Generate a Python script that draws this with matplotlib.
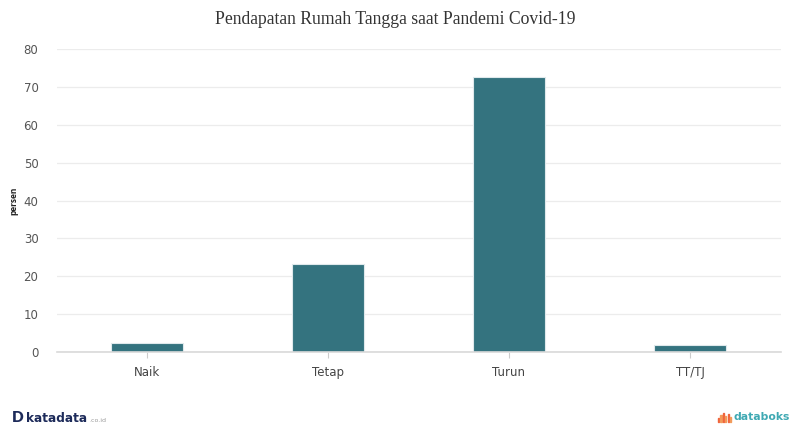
import matplotlib
matplotlib.use("Agg")
import matplotlib.pyplot as plt
from matplotlib.patches import Rectangle

categories = ["Naik", "Tetap", "Turun", "TT/TJ"]
values = [2.4, 23.3, 72.5, 1.8]
yticks = [0, 10, 20, 30, 40, 50, 60, 70, 80]

W, H = 790, 424
fig = plt.figure(figsize=(W / 100, H / 100), dpi=100)
fig.patch.set_facecolor("white")

ax = fig.add_axes([56.5 / W, (H - 352) / H, (780.5 - 56.5) / W, (352 - 49) / H])
ax.set_facecolor("white")

ax.bar(range(len(categories)), values, width=0.4, color="#34737f",
       edgecolor="#dfe9ec", linewidth=0.8, zorder=3)

ax.set_xlim(-0.5, len(categories) - 0.5)
ax.set_ylim(0, 80)
ax.set_yticks(yticks)
ax.set_yticklabels([str(v) for v in yticks])
ax.set_xticks(range(len(categories)))
ax.set_xticklabels(categories)

ax.grid(axis="y", color="#ececec", linewidth=0.9, zorder=0)
ax.grid(axis="x", visible=False)
for s in ["top", "right", "left"]:
    ax.spines[s].set_visible(False)
ax.spines["bottom"].set_color("#d9d9d9")
ax.spines["bottom"].set_linewidth(1.2)
ax.spines["bottom"].set_zorder(4)

ax.tick_params(axis="y", length=0, pad=13, labelsize=8.5, labelcolor="#555555")
ax.tick_params(axis="x", length=4, width=0.8, color="#cccccc", pad=6,
               labelsize=8.5, labelcolor="#444444")
for lbl in ax.get_xticklabels() + ax.get_yticklabels():
    lbl.set_family(["DejaVu Sans"])

ax.set_ylabel("persen", fontsize=6, fontweight="bold", color="#222222",
              family=["Open Sans", "DejaVu Sans"])
ax.yaxis.set_label_coords(-0.052, 0.5)

fig.text(0.5, 1 - 19 / H, "Pendapatan Rumah Tangga saat Pandemi Covid-19",
         ha="center", va="center", fontsize=12.7, color="#333333",
         family=["Liberation Serif", "DejaVu Serif"])

# footer brand marks
fig.text(12 / W, 1 - 418 / H, "D", ha="left", va="center", fontsize=11,
         fontweight="heavy", color="#1d2b5a", family=["Lato", "DejaVu Sans"])
fig.text(26 / W, 1 - 418 / H, "katadata", ha="left", va="center", fontsize=8.7,
         fontweight="bold", color="#1d2b5a", family=["DejaVu Sans"])
fig.text(89 / W, 1 - 420 / H, ".co.id", ha="left", va="center", fontsize=4.5,
         color="#999999", family=["DejaVu Sans"])

bar_heights = [4, 7, 9, 6, 8, 5]
for i, h in enumerate(bar_heights):
    fig.patches.append(Rectangle(((718 + i * 2.4) / W, (H - 422) / H),
                                 1.1 / W, h / H, transform=fig.transFigure,
                                 color="#f0643c" if i % 2 == 0 else "#f29a5a"))
fig.text(733 / W, 1 - 417 / H, "databoks", ha="left", va="center", fontsize=7.8,
         fontweight="bold", color="#3fa9b3", family=["DejaVu Sans"])

fig.savefig("out.png", dpi=100, facecolor="white")
